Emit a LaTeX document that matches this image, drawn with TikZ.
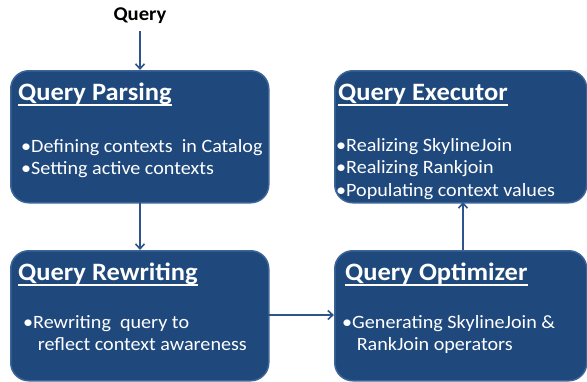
\documentclass[tikz,border=0pt]{standalone}
\usepackage{fontspec}
\setmainfont{Carlito}
\usetikzlibrary{arrows.meta}
\definecolor{boxfill}{RGB}{31,73,125}
\definecolor{boxline}{RGB}{60,100,150}
\definecolor{arrowcol}{RGB}{45,85,140}
\tikzset{
  x=1pt,y=-1pt,
  stagebox/.style={draw=boxline,line width=1.5pt,fill=boxfill,rounded corners=18pt,
    minimum width=#1,anchor=north west,inner sep=0pt},
  titletext/.style={text=white,font=\bfseries\fontsize{25}{28}\selectfont,anchor=base west,inner sep=0pt,xscale=1.06},
  bodytext/.style={text=white,font=\fontsize{18.8}{22.5}\selectfont,anchor=base west,inner sep=0pt,align=left,xscale=1.07},
  flow/.style={draw=arrowcol,line width=1.6pt,-{Straight Barb[length=5pt,width=9pt,line width=1.6pt]}},
  uline/.style={draw=white,line width=1.8pt}
}
\newcommand{\bind}{\phantom{•}}
\begin{document}
\begin{tikzpicture}
\useasboundingbox (0,0) rectangle (587,381);
% boxes
\node[stagebox=258pt,minimum height=132pt] (b1) at (10,70) {};
\node[stagebox=252pt,minimum height=132pt] (b2) at (334,70) {};
\node[stagebox=258pt,minimum height=130pt] (b3) at (10,250) {};
\node[stagebox=252pt,minimum height=130pt] (b4) at (334,250) {};
% titles
\node[titletext] (t1) at (18,100) {Query Parsing};
\node[titletext] (t2) at (338,100) {Query Executor};
\node[titletext] (t3) at (18,280) {Query Rewriting};
\node[titletext] (t4) at (345,280) {Query Optimizer};
\foreach \t in {t1,t2,t3,t4}{
  \draw[uline] ([yshift=-5pt]\t.base west) -- ([yshift=-5pt]\t.base east);
}
% bodies (anchor = baseline of last line)
\node[bodytext] (d1) at (21,174.5) {•Defining contexts\ \ in Catalog\\•Setting active contexts};
\node[bodytext] (d2) at (336,196) {•Realizing SkylineJoin\\•Realizing Rankjoin\\•Populating context values};
\node[bodytext] (d3) at (23,350.5) {•Rewriting\ \ query to\\\bind\ reflect context awareness};
\node[bodytext] (d4) at (342,350.5) {•Generating SkylineJoin \&\\\bind\ RankJoin operators};
% query
\node[font=\bfseries\fontsize{19.5}{22}\selectfont,inner sep=0pt,xscale=1.06] (q) at (140,16) {Query};
\coordinate (qa) at (140,31);
\coordinate (b1top) at (140,70);
\coordinate (b1bot) at (140,202);
\coordinate (b3top) at (140,250);
\coordinate (b3r) at (268,315);
\coordinate (b4l) at (334,315);
\coordinate (b4top) at (463,250);
\coordinate (b2bot) at (463,202);
\draw[flow] (qa) -- (b1top);
\draw[flow] (b1bot) -- (b3top);
\draw[flow] (b3r) -- (b4l);
\draw[flow] (b4top) -- (b2bot);
\end{tikzpicture}
\end{document}
